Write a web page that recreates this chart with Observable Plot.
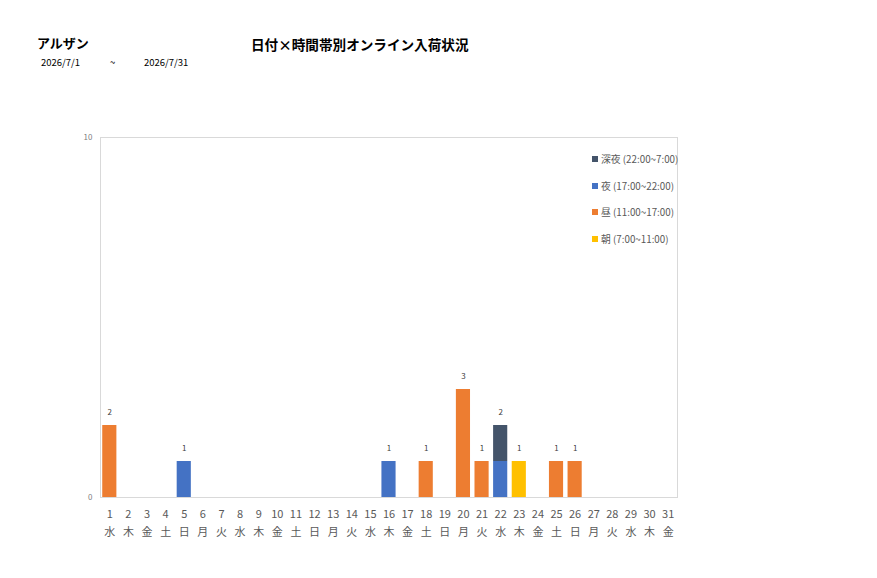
<!DOCTYPE html>
<html><head><meta charset="utf-8">
<script src="https://cdn.jsdelivr.net/npm/d3@7"></script>
<script src="https://cdn.jsdelivr.net/npm/@observablehq/plot@0.6"></script>
<style>
body{margin:0;background:#fff;font-family:"Noto Sans CJK JP","Noto Sans",sans-serif;}
#wrap{position:relative;width:877px;height:578px;overflow:hidden;}
.t{position:absolute;white-space:nowrap;color:#000;}
#legend{position:absolute;left:592px;top:146px;font-size:9.8px;color:#595959;}
#legend div{height:26.5px;display:flex;align-items:center;}
#legend span.sw{display:inline-block;width:6px;height:6px;margin-right:3px;}
</style></head>
<body><div id="wrap">
<div class="t" style="left:37px;top:33px;font-size:13px;font-weight:bold;">アルザン</div>
<div class="t" style="left:251px;top:34px;font-size:13.6px;font-weight:bold;">日付×時間帯別オンライン入荷状況</div>
<div class="t" style="left:41px;top:55px;font-size:9.5px;">2026/7/1</div>
<div class="t" style="left:110px;top:55px;font-size:9.5px;">~</div>
<div class="t" style="left:144px;top:55px;font-size:9.5px;">2026/7/31</div>
<div id="legend"></div>
</div>
<script>
const days = ["1","2","3","4","5","6","7","8","9","10","11","12","13","14","15","16","17","18","19","20","21","22","23","24","25","26","27","28","29","30","31"];
const weekdays = ["水","木","金","土","日","月","火","水","木","金","土","日","月","火","水","木","金","土","日","月","火","水","木","金","土","日","月","火","水","木","金"];
const seriesNames = ["深夜 (22:00~7:00)","夜 (17:00~22:00)","昼 (11:00~17:00)","朝 (7:00~11:00)"];
const seriesColors = ["#44546A","#4472C4","#ED7D31","#FFC000"];
const shinya = [0,0,0,0,0,0,0,0,0,0,0,0,0,0,0,0,0,0,0,0,0,1,0,0,0,0,0,0,0,0,0];
const yoru   = [0,0,0,0,1,0,0,0,0,0,0,0,0,0,0,1,0,0,0,0,0,1,0,0,0,0,0,0,0,0,0];
const hiru   = [2,0,0,0,0,0,0,0,0,0,0,0,0,0,0,0,0,1,0,3,1,0,0,0,1,1,0,0,0,0,0];
const asa    = [0,0,0,0,0,0,0,0,0,0,0,0,0,0,0,0,0,0,0,0,0,0,1,0,0,0,0,0,0,0,0];
const yTicks = [0,10];

// stacking order bottom -> top: 朝, 昼, 夜, 深夜
const seriesValues = [shinya, yoru, hiru, asa];
const rows = [];
for (const si of [3,2,1,0]) {
  days.forEach((d,i)=>{ if (seriesValues[si][i] > 0) rows.push({day:d, series:seriesNames[si], value:seriesValues[si][i]}); });
}
const totals = days.map((d,i)=>({day:d, total:shinya[i]+yoru[i]+hiru[i]+asa[i]})).filter(r=>r.total>0);
const wdMap = new Map(days.map((d,i)=>[d,weekdays[i]]));

const chart = Plot.plot({
  width:877, height:578,
  marginLeft:100, marginRight:200, marginTop:137, marginBottom:81,
  style:{fontFamily:'"Noto Sans CJK JP","Noto Sans",sans-serif', background:"transparent"},
  x:{domain:days, paddingInner:0.24, paddingOuter:0.12, round:false, label:null},
  y:{domain:[0,10], label:null},
  color:{domain:seriesNames, range:seriesColors},
  marks:[
    Plot.frame({stroke:"#d9d9d9"}),
    Plot.barY(rows, {x:"day", y:"value", fill:"series", order:null}),
    Plot.text(totals, {x:"day", y:"total", text:d=>String(d.total), dy:-13, fontSize:8, fill:"#404040"}),
    Plot.axisX({tickSize:0, tickPadding:13, fontSize:11, fill:"#595959", label:null}),
    Plot.axisX({tickSize:0, tickPadding:31, fontSize:11, fill:"#595959", tickFormat:d=>wdMap.get(d), label:null}),
    Plot.axisY({ticks:yTicks, tickSize:0, tickPadding:8, fontSize:8, fill:"#808080", label:null})
  ]
});
chart.style.position="absolute"; chart.style.left="0"; chart.style.top="0";
document.getElementById("wrap").prepend(chart);

const lg = document.getElementById("legend");
seriesNames.forEach((n,i)=>{
  const row=document.createElement("div");
  const sw=document.createElement("span"); sw.className="sw"; sw.style.background=seriesColors[i];
  row.appendChild(sw); row.appendChild(document.createTextNode(n)); lg.appendChild(row);
});
</script>
</body></html>
